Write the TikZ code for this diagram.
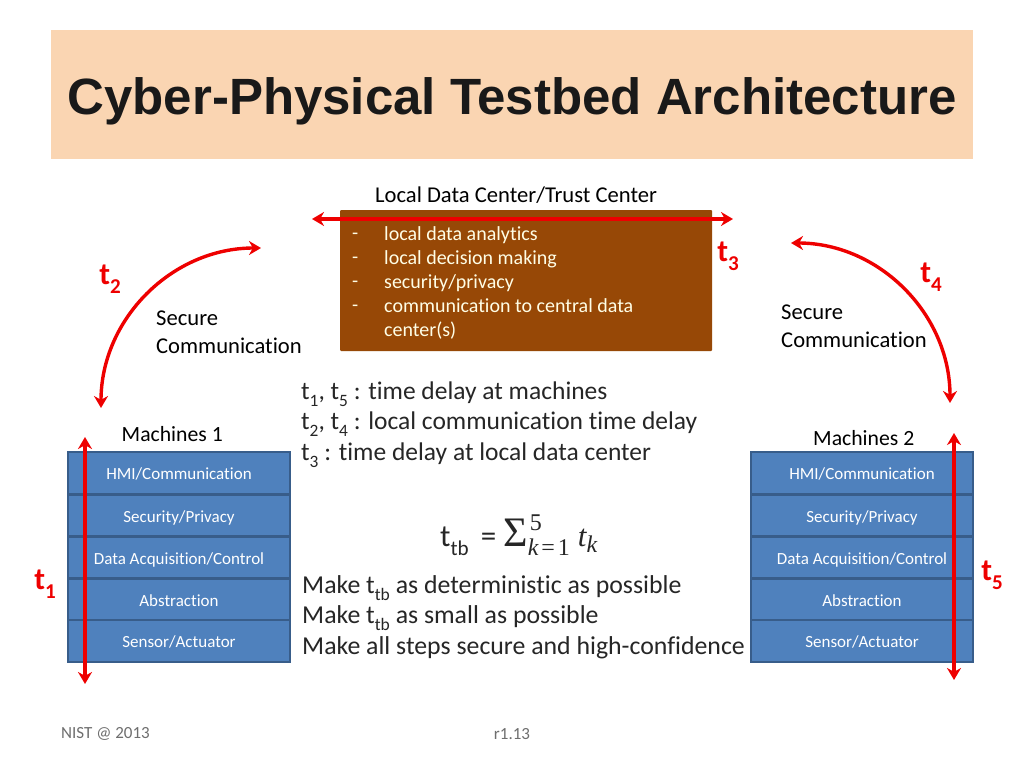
\documentclass[tikz,border=0pt]{standalone}
\usepackage{fontspec}
\setmainfont[Ligatures=CommonOff]{Carlito}
\newfontfamily\titlefont{Liberation Sans}
\newfontfamily\mathserif{Liberation Serif}
\usetikzlibrary{arrows.meta}
\definecolor{hdr}{RGB}{250,213,178}
\definecolor{brownbox}{RGB}{151,72,6}
\definecolor{bluebox}{RGB}{79,129,189}
\definecolor{blueedge}{RGB}{56,93,138}
\definecolor{redline}{RGB}{238,0,0}
\definecolor{notegray}{RGB}{110,110,110}
\newcommand{\sub}[1]{\raisebox{-0.28em}{\scalebox{0.68}{#1}}}
\newcommand{\dashmark}{\raisebox{-2pt}{-}}
\tikzset{
  x=1pt,y=-1pt,
  layerbox/.style={draw=blueedge,line width=2.4pt,fill=bluebox,text=white,minimum width=222pt,minimum height=42pt,inner sep=0pt,font=\fontsize{17}{20}\selectfont,text depth=0pt},
  body/.style={inner sep=0pt,anchor=west,text=black,font=\fontsize{22.6}{27}\selectfont},
  big/.style={inner sep=0pt,anchor=west,text=black!85,font=\fontsize{25.8}{30.5}\selectfont,align=left},
  redarrow/.style={draw=redline,line width=3.4pt,{Stealth[length=12pt,width=14pt]}-{Stealth[length=12pt,width=14pt]}},
  tlabel/.style={inner sep=0pt,text=redline,font=\fontsize{31}{32}\selectfont\bfseries},
  foot/.style={inner sep=0pt,text=notegray,font=\fontsize{17}{20}\selectfont},
  listtext/.style={inner sep=0pt,anchor=west,text=white!90!yellow,font=\fontsize{20}{24}\selectfont,align=left},
}
\begin{document}
\begin{tikzpicture}
\useasboundingbox (0,0) rectangle (1024,768);
\fill[white] (0,0) rectangle (1024,768);
\node[fill=hdr,minimum width=922pt,minimum height=129pt,inner sep=0pt] (header) at (512,94.5) {};
\node[inner sep=0pt,font=\titlefont\bfseries\fontsize{51}{55}\selectfont,text=black!90] (title) at (512,101) {Cyber-Physical Testbed Architecture};

\node[body] (dctitle) at (375,195) {Local Data Center/Trust Center};
\node[fill=brownbox,minimum width=372pt,minimum height=141pt,inner sep=0pt,rounded corners=1pt] (dc) at (526,280.5) {};
\node[listtext] (dash) at (352,283) {\dashmark\\\dashmark\\\dashmark\\\dashmark\\\phantom{-}};
\node[listtext] (dclist) at (384,283) {local data analytics\\local decision making\\security/privacy\\communication to central data\\center(s)};
\coordinate (t3a) at (312,219);
\coordinate (t3b) at (733,219);
\draw[redarrow] (t3a) -- (t3b);
\node[tlabel] (t3) at (728,256) {t\sub{3}};

\node[tlabel] (t2) at (110,279) {t\sub{2}};
\node[tlabel] (t4) at (931,277) {t\sub{4}};
\coordinate (a2s) at (261,248);
\coordinate (a2e) at (101,408);
\coordinate (a4s) at (791,243);
\coordinate (a4e) at (950,403);
\draw[redarrow] (a2s) .. controls (172,248) and (101,319) .. (a2e);
\draw[redarrow] (a4s) .. controls (879,243) and (950,314) .. (a4e);

\node[body,align=left,font=\fontsize{22.6}{27.5}\selectfont] (sc1) at (156,332) {Secure\\Communication};
\node[body,align=left,font=\fontsize{22.6}{27.5}\selectfont] (sc2) at (781,326) {Secure\\Communication};

\node[body,font=\fontsize{21.7}{27}\selectfont] (m1) at (121.5,434) {Machines 1};
\node[body,font=\fontsize{21.7}{27}\selectfont] (m2) at (813,438) {Machines 2};

\foreach \n/\y/\t in {a/473/HMI\slash Communication,b/515.5/Security\slash Privacy,c/557.5/Data Acquisition\slash Control,d/599.5/Abstraction,e/641/Sensor\slash Actuator}{
  \node[layerbox] (l\n) at (179,\y) {\raisebox{-1.2pt}{\t}};
  \node[layerbox] (r\n) at (862,\y) {\raisebox{-1.2pt}{\t}};
}
\coordinate (t1a) at (85,437);
\coordinate (t1b) at (85,684);
\coordinate (t5a) at (954,433);
\coordinate (t5b) at (954,680);
\draw[redarrow] (t1a) -- (t1b);
\draw[redarrow] (t5a) -- (t5b);
\node[tlabel] (t1) at (45,584) {t\sub{1}};
\node[tlabel] (t5) at (992,575) {t\sub{5}};

\node[big,font=\fontsize{25.5}{30.5}\selectfont] (defs) at (301,424.5) {t\sub{1}, t\sub{5} : time delay at machines\\t\sub{2}, t\sub{4} : local communication time delay\\t\sub{3} : time delay at local data center};
\node[big,anchor=west,font=\fontsize{31}{36}\selectfont] (eq) at (440,535) {t\sub{tb} \,= {\mathserif\fontsize{42}{42}\selectfont Σ}\rlap{\raisebox{16pt}{\fontsize{24}{24}\selectfont\mathserif\kern2pt 5}}\raisebox{-9pt}{\fontsize{24}{24}\selectfont\mathserif\itshape k\kern3pt\upshape =\kern3pt 1}\kern8pt{\mathserif\itshape t}\raisebox{-6pt}{\fontsize{24}{24}\selectfont\mathserif\itshape k}};
\node[big] (goals) at (302,617) {Make t\sub{tb} as deterministic as possible\\Make t\sub{tb} as small as possible\\Make all steps secure and high-confidence};

\node[foot,anchor=west] (f1) at (61,733.5) {NIST @ 2013};
\node[foot] (f2) at (512,734) {r1.13};
\end{tikzpicture}
\end{document}
